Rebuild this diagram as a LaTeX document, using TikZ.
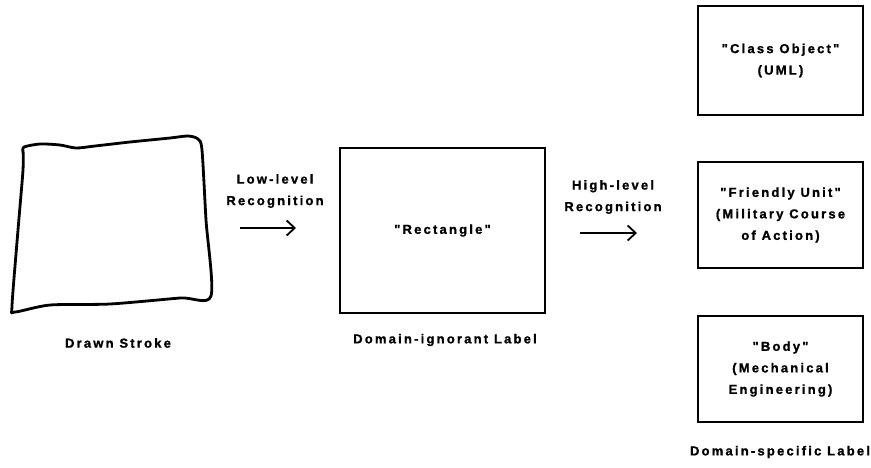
\documentclass[tikz,border=0pt]{standalone}
\usepackage{fontspec}
\setmainfont[LetterSpace=17, Ligatures=TeXOff, FakeBold=1.2]{Liberation Sans Bold}
\usetikzlibrary{arrows.meta}

\tikzset{
    lbl/.style={font=\fontsize{13}{21.5}\selectfont, align=center, inner sep=0pt},
    kasten/.style={draw, line width=2.5pt, lbl},
    pfeil/.style={line width=1.8pt, -{Straight Barb[length=8pt, width=15pt, line width=1.8pt]}},
}

\begin{document}
\begin{tikzpicture}[x=1pt, y=-1pt]

            % Rahmen (Bildgroesse)
            \useasboundingbox (0,0) rectangle (871,467);

            % Handgezeichneter Strich
            \draw[line width=2.8pt, line cap=round, line join=round]
            plot[smooth, tension=0.45] coordinates {
                    (23,152) (24,147) (40,144) (60,145) (76,148) (95,146) (130,142)
                    (170,138) (188,136) (198,139) (202,150) (206,220) (211,296)
                    (180,298) (110,304) (50,305) (15,312) (12,306) (18,230)
                    (23,170) (23,150)};
            \node[lbl] (stroke) at (118,343) {Drawn Stroke};

            % Low-level Recognition
            \node[lbl] (low) at (275,191) {Low-level\\Recognition};
            \coordinate (lowA) at (240,228);
            \coordinate (lowB) at (296,228);
            \draw[pfeil] (lowA) -- (lowB);

            % Domain-ignorant Label
            \node[kasten, minimum width=205, minimum height=165] (rect) at (442.5,230.5) {"Rectangle"};
            \node[lbl] (ignorant) at (445,340) {Domain-ignorant Label};

            % High-level Recognition
            \node[lbl] (high) at (613,197) {High-level\\Recognition};
            \coordinate (highA) at (580,233);
            \coordinate (highB) at (637,233);
            \draw[pfeil] (highA) -- (highB);

            % Domain-specific Labels
            \node[kasten, minimum width=165, minimum height=109] (classobj) at (780.5,60.5) {"Class Object"\\(UML)};
            \node[kasten, minimum width=165, minimum height=106] (friendly) at (780.5,215) {"Friendly Unit"\\(Military Course\\of Action)};
            \node[kasten, minimum width=165, minimum height=106] (body) at (780.5,369) {"Body"\\(Mechanical\\Engineering)};
            \node[lbl] (specific) at (780,452) {Domain-specific Label};

\end{tikzpicture}
\end{document}
